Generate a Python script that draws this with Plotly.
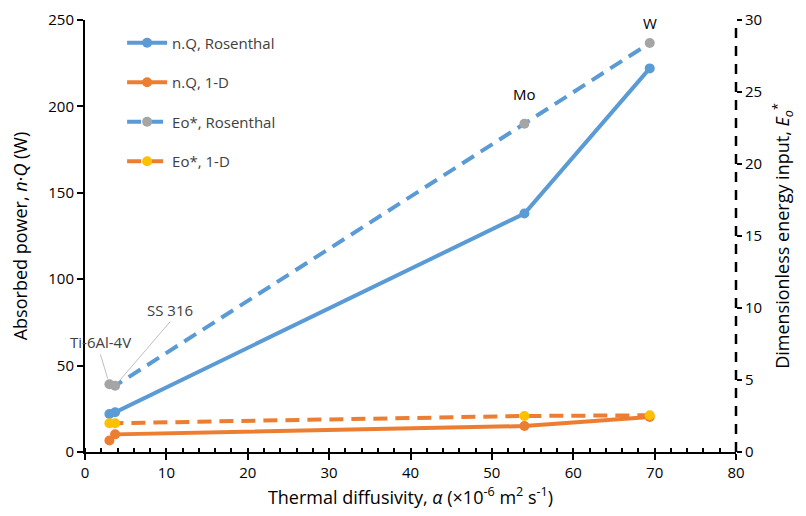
import plotly.graph_objects as go

materials = ["Ti-6Al-4V", "SS 316", "Mo", "W"]
alpha = [3.0, 3.7, 54.0, 69.4]
nq_rosenthal = [22.0, 23.0, 138.0, 222.0]
nq_1d = [6.7, 10.2, 15.0, 20.3]
eo_rosenthal = [4.7, 4.6, 22.8, 28.4]
eo_1d = [2.0, 2.0, 2.5, 2.55]

BLUE = "#5B9BD5"
ORANGE = "#ED7D31"
GRAY = "#A5A5A5"
YELLOW = "#FFC000"
FONT = "Open Sans"

fig = go.Figure()
fig.add_trace(go.Scatter(x=alpha, y=nq_rosenthal, name="n.Q, Rosenthal", mode="lines+markers",
                         line=dict(color=BLUE, width=4), marker=dict(color=BLUE, size=10),
                         legendgroup="a"))
fig.add_trace(go.Scatter(x=alpha, y=nq_1d, name="n.Q, 1-D", mode="lines+markers",
                         line=dict(color=ORANGE, width=4), marker=dict(color=ORANGE, size=10),
                         legendgroup="b"))
fig.add_trace(go.Scatter(x=alpha, y=eo_rosenthal, name="Eo*, Rosenthal", mode="lines+markers",
                         line=dict(color=BLUE, width=4, dash="14px,8px"),
                         marker=dict(color=GRAY, size=10), yaxis="y2", legendgroup="c"))
fig.add_trace(go.Scatter(x=alpha, y=eo_1d, name="Eo*, 1-D", mode="lines+markers",
                         line=dict(color=ORANGE, width=4, dash="14px,8px"),
                         marker=dict(color=YELLOW, size=10), yaxis="y2", legendgroup="d"))

# labels
ann_color = "#404040"
fig.add_annotation(x=alpha[0], y=eo_rosenthal[0], yref="y2", text=materials[0], showarrow=True,
                   ax=-9, ay=-30, arrowhead=0, arrowwidth=1, arrowcolor="#BFBFBF",
                   standoff=6, font=dict(family=FONT, size=15, color=ann_color),
                   yanchor="bottom")
fig.add_annotation(x=alpha[1], y=eo_rosenthal[1], yref="y2", text=materials[1], showarrow=True,
                   ax=55, ay=-64, arrowhead=0, arrowwidth=1, arrowcolor="#BFBFBF",
                   standoff=6, font=dict(family=FONT, size=15, color=ann_color),
                   yanchor="bottom")
fig.add_annotation(x=alpha[2], y=eo_rosenthal[2], yref="y2", text=materials[2], showarrow=False,
                   yshift=30, font=dict(family=FONT, size=15, color="#000"))
fig.add_annotation(x=alpha[3], y=eo_rosenthal[3], yref="y2", text=materials[3], showarrow=False,
                   yshift=20, font=dict(family=FONT, size=15, color="#000"))

# dashed right axis line
fig.add_shape(type="line", xref="paper", yref="paper", x0=1, x1=1, y0=0, y1=1,
              line=dict(color="black", width=2.5, dash="10px,8px"))

fig.update_layout(
    width=798, height=508,
    margin=dict(l=77, r=70, t=12, b=64, autoexpand=False),
    paper_bgcolor="white", plot_bgcolor="white",
    font=dict(family=FONT, size=15, color="#000"),
    showlegend=True,
    legend=dict(x=0.057, y=0.985, xanchor="left", yanchor="top", bgcolor="rgba(0,0,0,0)",
                font=dict(family=FONT, size=15, color="#404040"), tracegroupgap=17,
                itemwidth=40),
    xaxis=dict(range=[0, 80], tickvals=list(range(0, 81, 10)), showgrid=False, zeroline=False,
               showline=True, linecolor="black", linewidth=2, ticks="outside", ticklen=6,
               tickwidth=2, tickcolor="black", automargin=False,
               minor=dict(dtick=2, ticks="inside", ticklen=4, tickwidth=1.5, tickcolor="black"),
               title=dict(text="Thermal diffusivity, <i>α</i> (×10<sup>-6</sup> m<sup>2</sup> s<sup>-1</sup>)",
                          font=dict(size=18), standoff=10),
               tickfont=dict(size=15)),
    yaxis=dict(range=[0, 250], tickvals=list(range(0, 251, 50)), showgrid=False, zeroline=False,
               showline=True, linecolor="black", linewidth=2, ticks="outside", ticklen=6,
               tickwidth=2, tickcolor="black", automargin=False,
               title=dict(text="Absorbed power, <i>n</i>·<i>Q</i> (W)", font=dict(size=18), standoff=19),
               tickfont=dict(size=15)),
    yaxis2=dict(range=[0, 30], tickvals=list(range(0, 31, 5)), overlaying="y", side="right",
                showgrid=False, zeroline=False, showline=False, ticks="outside", ticklen=5,
                tickwidth=2, tickcolor="black", automargin=False,
                title=dict(text="Dimensionless energy input, <i>E</i><sub><i>o</i></sub><sup>*</sup>",
                           font=dict(size=18), standoff=15),
                tickfont=dict(size=15)),
)

fig.write_html("out.html")
